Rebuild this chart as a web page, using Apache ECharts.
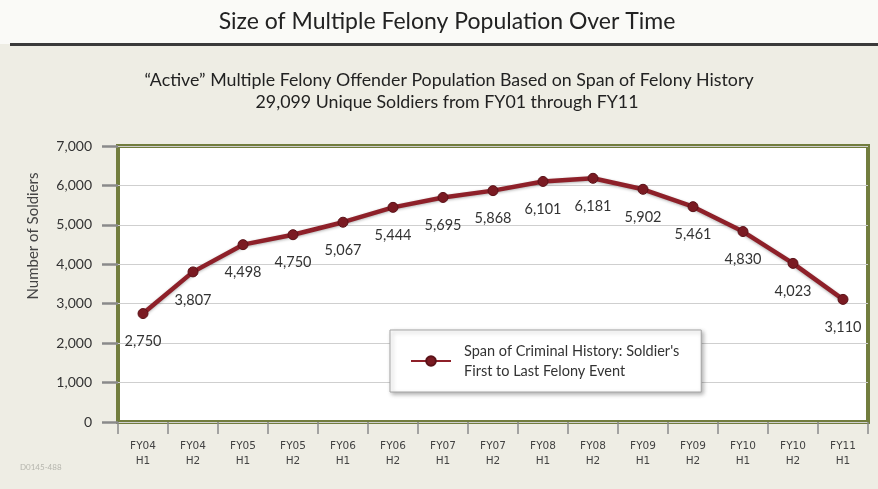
<!DOCTYPE html>
<html>
<head>
<meta charset="utf-8">
<script src="https://cdn.jsdelivr.net/npm/echarts@6/dist/echarts.min.js"></script>
<style>html,body{margin:0;padding:0;}#c{width:878px;height:489px;}</style>
</head>
<body>
<div id="c"></div>
<script>
const categories = ['FY04\nH1','FY04\nH2','FY05\nH1','FY05\nH2','FY06\nH1','FY06\nH2','FY07\nH1','FY07\nH2','FY08\nH1','FY08\nH2','FY09\nH1','FY09\nH2','FY10\nH1','FY10\nH2','FY11\nH1'];
const soldiers = [2750, 3807, 4498, 4750, 5067, 5444, 5695, 5868, 6101, 6181, 5902, 5461, 4830, 4023, 3110];
const yTicks = [0, 1000, 2000, 3000, 4000, 5000, 6000, 7000];
const seriesName = "Span of Criminal History: Soldier's\nFirst to Last Felony Event";
const mainTitle = 'Size of Multiple Felony Population Over Time';
const subTitle1 = '\u201cActive\u201d Multiple Felony Offender Population Based on Span of Felony History';
const subTitle2 = '29,099 Unique Soldiers from FY01 through FY11';
const yName = 'Number of Soldiers';

const fmt = v => Number(v).toLocaleString('en-US');
const chart = echarts.init(document.getElementById('c'), null, {renderer:'canvas'});
chart.setOption({
  backgroundColor: '#eeede4',
  animation: false,
  graphic: [
    {type:'rect', shape:{x:0,y:0,width:878,height:44}, style:{fill:'#fafaf7'}, z:0},
    {type:'line', shape:{x1:10,y1:44.5,x2:878,y2:44.5}, style:{stroke:'#3a3a3a', lineWidth:3}, z:1},
    {type:'text', x:447, y:22, style:{text:mainTitle, font:'23px Lato', fill:'#222', textAlign:'center', textVerticalAlign:'middle'}},
    {type:'text', x:449, y:80, style:{text:subTitle1, font:'17.8px Lato', fill:'#222', textAlign:'center', textVerticalAlign:'middle'}},
    {type:'text', x:447, y:102, style:{text:subTitle2, font:'17.8px Lato', fill:'#222', textAlign:'center', textVerticalAlign:'middle'}},
    {type:'text', x:33, y:236, rotation:Math.PI/2, style:{text:yName, font:'15px Lato', fill:'#444', textAlign:'center', textVerticalAlign:'middle'}},
    {type:'text', x:20, y:467, style:{text:'D0145-488', font:'8px Lato', fill:'#b5b5ad', textAlign:'left', textVerticalAlign:'middle'}}
  ],
  grid: {left:118, right:10, top:146, bottom:67, show:true, backgroundColor:'#ffffff', borderColor:'#727d3e', borderWidth:4},
  legend: {
    show:true, left:390, top:330, orient:'vertical',
    backgroundColor:'#ffffff', borderColor:'#a5a5a5', borderWidth:1,
    padding:[11, 22, 11, 20], itemWidth:40, itemHeight:12,
    shadowBlur:4, shadowColor:'rgba(0,0,0,0.3)', shadowOffsetX:2, shadowOffsetY:2,
    textStyle:{fontFamily:'Lato', fontSize:14.5, color:'#333', lineHeight:20, padding:[0,0,0,8]},
    data:[seriesName]
  },
  xAxis: {
    type:'category', data:categories, boundaryGap:true,
    axisLine:{show:false},
    axisTick:{show:true, length:12, lineStyle:{color:'#8a8a8a', width:1.5}},
    axisLabel:{fontFamily:'DejaVu Sans', fontSize:10.5, color:'#444', lineHeight:15, margin:17, interval:0}
  },
  yAxis: {
    type:'value', min:yTicks[0], max:yTicks[yTicks.length-1], interval:1000,
    axisLine:{show:false},
    axisTick:{show:true, length:16, lineStyle:{color:'#8a8a8a', width:2.5}},
    axisLabel:{fontFamily:'Lato', fontSize:14, color:'#333', margin:26, formatter:v=>fmt(v)},
    splitLine:{show:true, lineStyle:{color:'#cfcfcf', width:1}}
  },
  series: [{
    name: seriesName, type:'line', data:soldiers,
    symbol:'circle', symbolSize:10,
    lineStyle:{color:'#8e2029', width:4.5, shadowBlur:3, shadowColor:'rgba(0,0,0,0.3)', shadowOffsetY:1},
    itemStyle:{color:'#7a1a22', borderColor:'#5a1218', borderWidth:1},
    label:{show:true, position:'bottom', distance:15, fontFamily:'Lato', fontSize:14.5, color:'#333', formatter:p=>fmt(p.value)},
    z:5
  }]
});
</script>
</body>
</html>
